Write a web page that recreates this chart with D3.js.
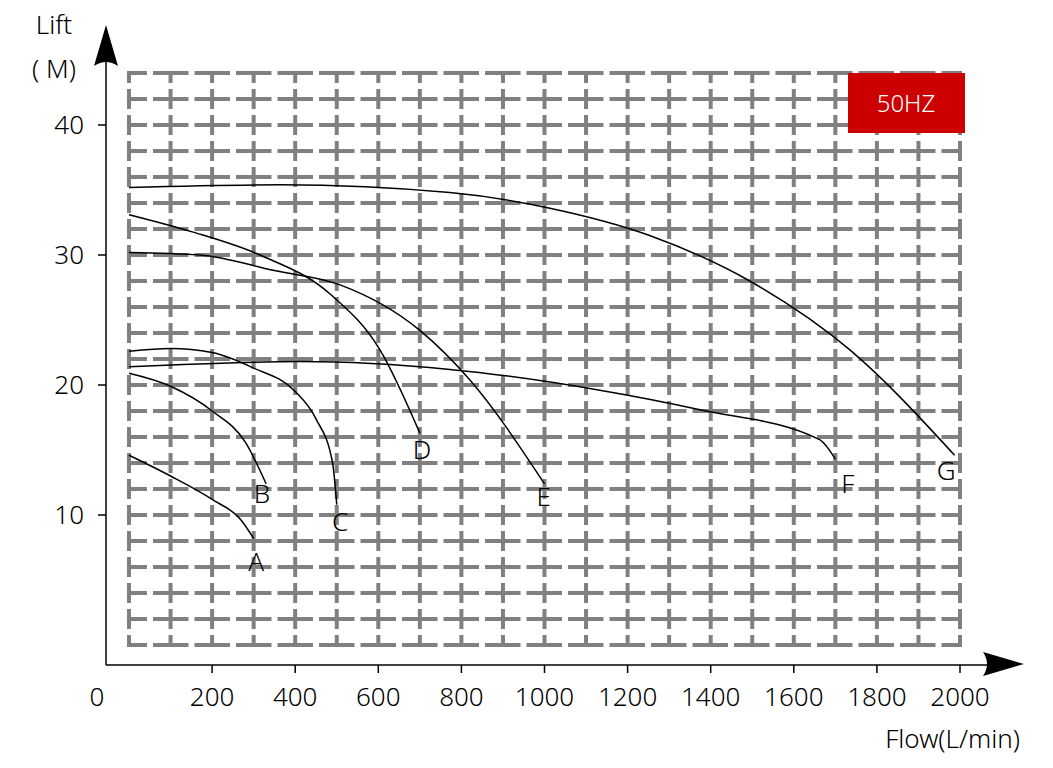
<!DOCTYPE html><html><head><meta charset="utf-8"><script src="https://cdn.jsdelivr.net/npm/d3@7"></script>
<style>body{margin:0;background:#fff}text{font-family:"Noto Sans","DejaVu Sans",sans-serif;font-weight:300}</style></head><body><svg id="c" width="1053" height="768"></svg>
<script>
const xTicks=[200,400,600,800,1000,1200,1400,1600,1800,2000];
const yTicks=[10,20,30,40];
const curveA=[[0,14.6],[100,13],[200,11.2],[270,9.6],[300,8.2]];
const curveB=[[0,20.9],[100,19.9],[200,18],[280,15.6],[330,12.4]];
const curveC=[[0,22.6],[100,22.8],[200,22.5],[300,21.3],[400,19.5],[450,17.4],[490,14],[500,10.8]];
const curveD=[[0,33.1],[150,31.8],[315,30],[484,27],[604,22.7],[700,16.3]];
const curveE=[[0,30.2],[171,30],[350,28.8],[508,27.7],[700,24.2],[820,20.4],[1000,12.4]];
const curveF=[[0,21.4],[411,21.8],[772,21.2],[1133,19.6],[1374,18.1],[1662,15.8],[1700,14.3]];
const curveG=[[0,35.2],[363,35.4],[772,34.8],[1013,33.6],[1253,31.5],[1494,28],[1735,22.7],[1987,14.6]];
const curves=[curveA,curveB,curveC,curveD,curveE,curveF,curveG];
const labels=[["A",306,6.4],["B",320,11.6],["C",508,9.5],["D",705,15],["E",998,11.4],["F",1730,12.4],["G",1967,13.4]];
const svg=d3.select("#c");
const x=d3.scaleLinear().domain([0,2000]).range([129,960]);
const y=d3.scaleLinear().domain([0,40]).range([645,125]);
const g=svg.append("g").attr("stroke","#808080").attr("stroke-width",4).attr("fill","none");
d3.range(0,2001,100).forEach(v=>g.append("line").attr("x1",x(v)).attr("x2",x(v)).attr("y1",y(44)-2).attr("y2",y(0)-2)
 .attr("stroke-dasharray","20,6").attr("stroke-dashoffset",8));
d3.range(0,45,2).forEach(v=>g.append("line").attr("y1",y(v)).attr("y2",y(v)).attr("x1",x(0)-2).attr("x2",x(2000)+2)
 .attr("stroke-dasharray","35.5,6").attr("stroke-dashoffset",15.5));
svg.append("line").attr("x1",106).attr("x2",106).attr("y1",60).attr("y2",665).attr("stroke","#000").attr("stroke-width",1.5);
svg.append("line").attr("x1",106).attr("x2",990).attr("y1",665).attr("y2",665).attr("stroke","#000").attr("stroke-width",1.5);
svg.append("path").attr("d","M106,25 L94,66 Q106,58 118,66 Z").attr("fill","#000");
svg.append("path").attr("d","M1024,664 L983,652 Q991,664 983,676 Z").attr("fill","#000");
xTicks.forEach(v=>{svg.append("line").attr("x1",x(v)).attr("x2",x(v)).attr("y1",665).attr("y2",673).attr("stroke","#000").attr("stroke-width",1.5);
 svg.append("text").attr("x",x(v)).attr("y",706).attr("text-anchor","middle").attr("font-size",26).text(v);});
svg.append("text").attr("x",97).attr("y",706).attr("text-anchor","middle").attr("font-size",26).text("0");
yTicks.forEach(v=>{svg.append("line").attr("x1",98).attr("x2",106).attr("y1",y(v)).attr("y2",y(v)).attr("stroke","#000").attr("stroke-width",1.5);
 svg.append("text").attr("x",84).attr("y",y(v)+9).attr("text-anchor","end").attr("font-size",26).text(v);});
svg.append("text").attr("x",54).attr("y",34).attr("text-anchor","middle").attr("font-size",26).text("Lift");
svg.append("text").attr("x",54).attr("y",78).attr("text-anchor","middle").attr("font-size",26).text("( M)");
svg.append("text").attr("x",1020).attr("y",748).attr("text-anchor","end").attr("font-size",26).text("Flow(L/min)");
const line=d3.line().x(d=>x(d[0])).y(d=>y(d[1])).curve(d3.curveMonotoneX);
curves.forEach(c=>svg.append("path").attr("d",line(c)).attr("fill","none").attr("stroke","#000").attr("stroke-width",1.5));
labels.forEach(l=>svg.append("text").attr("x",x(l[1])).attr("y",y(l[2])+9).attr("text-anchor","middle").attr("font-size",26).text(l[0]));
svg.append("rect").attr("x",848).attr("y",73).attr("width",117).attr("height",60).attr("fill","#cc0000");
svg.append("text").attr("x",906).attr("y",112).attr("text-anchor","middle").attr("font-size",24).attr("fill","#fff").text("50HZ");
</script></body></html>
